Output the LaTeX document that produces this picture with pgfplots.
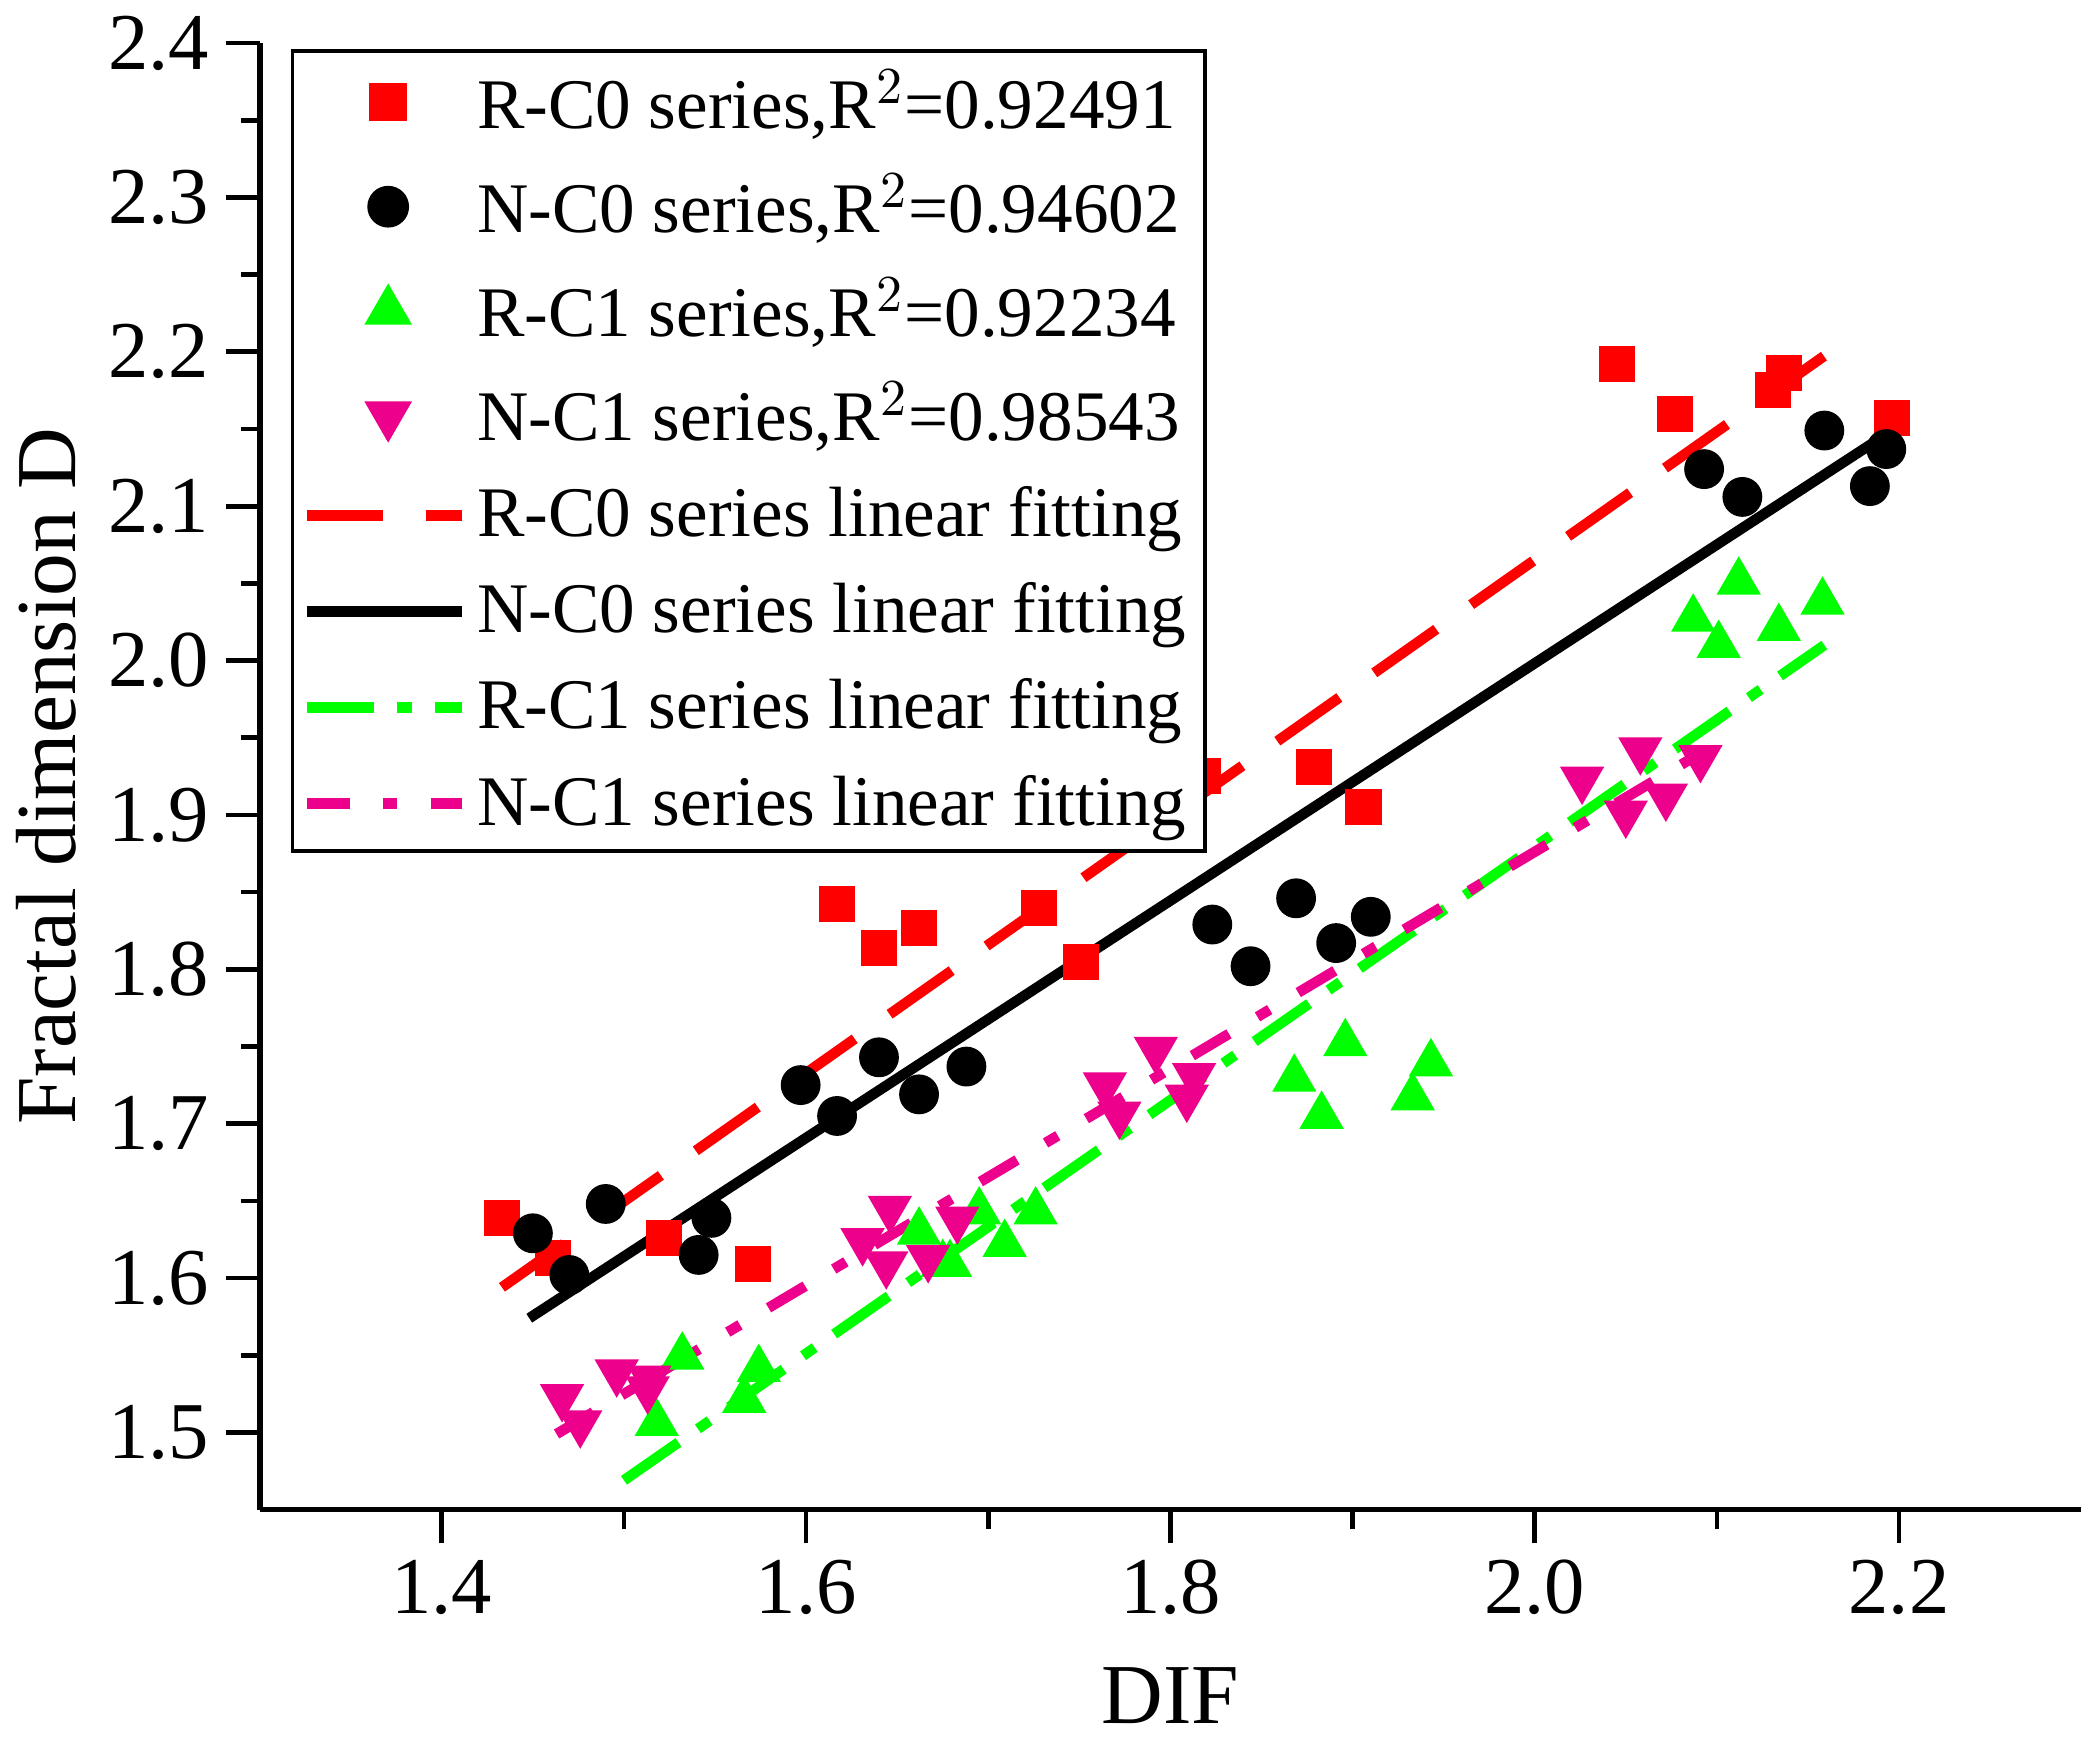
\documentclass[border=0pt]{standalone}
\usepackage{fontspec}
\setmainfont{Liberation Serif}
\usepackage{pgfplots}
\pgfplotsset{compat=1.18}
\pgfplotsset{markleg/.style={legend image code/.code={\draw[##1] plot coordinates {(0.6cm,0cm)};}}}
\begin{document}
\begin{tikzpicture}
\begin{axis}[
  scale only axis, width=13.5cm, height=10.87cm,
  xmin=1.3, xmax=2.3, ymin=1.45, ymax=2.4,
  axis x line*=bottom, axis y line*=left,
  axis line style={line width=1.2pt},
  every tick/.style={line width=1pt,black},
  tick align=outside, major tick length=0.25cm, minor tick length=0.14cm,
  xtick={1.4,1.6,1.8,2.0,2.2}, minor x tick num=1,
  ytick={1.5,1.6,1.7,1.8,1.9,2.0,2.1,2.2,2.3,2.4}, minor y tick num=1,
  xticklabel style={/pgf/number format/fixed,/pgf/number format/fixed zerofill,/pgf/number format/precision=1},
  yticklabel style={/pgf/number format/fixed,/pgf/number format/fixed zerofill,/pgf/number format/precision=1},
  /pgf/number format/assume math mode=true,
  tick label style={font=\fontsize{17}{20}\selectfont},
  xlabel={DIF}, ylabel={Fractal dimension D},
  label style={font=\fontsize{18}{21}\selectfont},
  xlabel style={yshift=-0.15cm},
  legend cell align=left,
  legend style={at={(rel axis cs:0.017,0.996)}, anchor=north west,
    font=\fontsize{15}{18}\selectfont, draw=black, line width=0.8pt,
    row sep=4.2pt, inner sep=2pt},
  legend image code/.code={\draw[#1] (0cm,0cm) -- (1.15cm,0cm);},
]
\addplot[only marks, mark=square*, mark size=3.6pt, color=red, markleg] coordinates {
(1.433,1.639)(1.461,1.613)(1.522,1.626)(1.571,1.609)(1.617,1.842)(1.640,1.814)
(1.662,1.827)(1.728,1.840)(1.751,1.805)(1.772,1.943)(1.807,1.914)(1.818,1.925)
(1.879,1.931)(1.906,1.905)(2.045,2.192)(2.077,2.160)(2.131,2.175)(2.137,2.186)(2.196,2.157)};
\addlegendentry{R-C0 series,R$^2$=0.92491}
\addplot[only marks, mark=*, mark size=4pt, color=black, markleg] coordinates {
(1.450,1.629)(1.470,1.602)(1.490,1.648)(1.541,1.615)(1.548,1.639)(1.597,1.725)
(1.617,1.705)(1.640,1.743)(1.662,1.719)(1.688,1.737)(1.823,1.829)(1.844,1.802)
(1.869,1.846)(1.891,1.817)(1.910,1.834)(2.093,2.124)(2.114,2.106)(2.159,2.149)(2.184,2.113)(2.193,2.137)};
\addlegendentry{N-C0 series,R$^2$=0.94602}
\addplot[only marks, mark=triangle*, mark size=5pt, color=green, markleg] coordinates {
(1.518,1.506)(1.532,1.549)(1.566,1.521)(1.574,1.541)(1.662,1.630)(1.675,1.609)
(1.679,1.609)(1.695,1.643)(1.709,1.622)(1.726,1.643)(1.868,1.729)(1.883,1.705)
(1.896,1.752)(1.933,1.717)(1.943,1.739)(2.087,2.027)(2.101,2.010)(2.112,2.051)(2.134,2.021)(2.158,2.038)};
\addlegendentry{R-C1 series,R$^2$=0.92234}
\addplot[only marks, mark=triangle*, mark options={rotate=180}, mark size=5pt, color=magenta, markleg] coordinates {
(1.466,1.523)(1.476,1.506)(1.496,1.539)(1.513,1.528)(1.514,1.535)(1.631,1.624)
(1.644,1.609)(1.646,1.645)(1.667,1.613)(1.683,1.638)(1.764,1.725)(1.772,1.706)
(1.792,1.748)(1.809,1.717)(1.813,1.731)(2.026,1.923)(2.050,1.901)(2.058,1.942)(2.072,1.912)(2.091,1.937)};
\addlegendentry{N-C1 series,R$^2$=0.98543}
\addplot[red, line width=2.2pt, dash pattern=on 16pt off 9pt] coordinates {(1.433,1.594)(2.173,2.209)};
\addlegendentry{R-C0 series linear fitting}
\addplot[black, line width=2.2pt] coordinates {(1.448,1.574)(2.191,2.145)};
\addlegendentry{N-C0 series linear fitting}
\addplot[green, line width=2.2pt, dash pattern=on 14pt off 5pt on 3pt off 5pt] coordinates {(1.500,1.469)(2.159,2.010)};
\addlegendentry{R-C1 series linear fitting}
\addplot[magenta, line width=2.2pt, dash pattern=on 9pt off 7pt on 3pt off 7pt] coordinates {(1.463,1.499)(2.091,1.940)};
\addlegendentry{N-C1 series linear fitting}
\end{axis}
\end{tikzpicture}
\end{document}
